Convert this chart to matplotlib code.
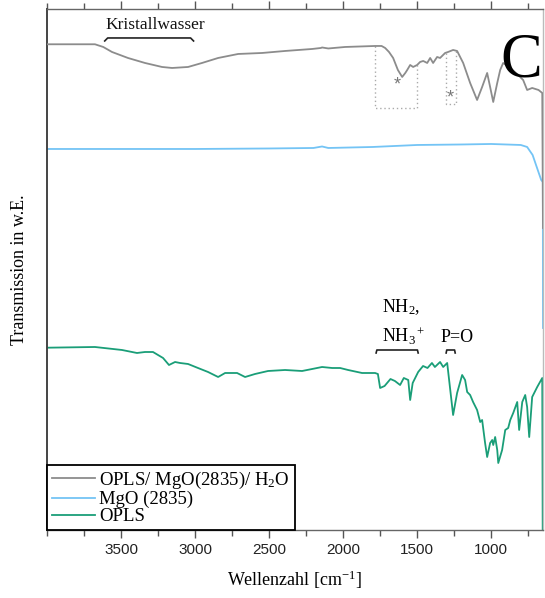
import numpy as np
import matplotlib
matplotlib.use("Agg")
import matplotlib.pyplot as plt
from matplotlib.ticker import MultipleLocator

SERIF = "Liberation Serif"
SANS = "Liberation Sans"
plt.rcParams["mathtext.fontset"] = "custom"
plt.rcParams["mathtext.rm"] = SERIF
plt.rcParams["mathtext.it"] = SERIF + ":italic"
plt.rcParams["mathtext.bf"] = SERIF + ":bold"

# ---- data (wavenumber cm^-1, transmission a.u.) ----
wn_gray = [4000, 3676, 3620, 3561, 3453, 3338, 3223, 3155, 3047, 2953, 2844, 2709,
           2547, 2392, 2209, 2150, 2142, 2100, 1986, 1784, 1740, 1716, 1690, 1662,
           1630, 1601, 1580, 1567, 1547, 1527, 1500, 1480, 1459, 1432, 1412, 1392,
           1365, 1345, 1311, 1291, 1257, 1230, 1189, 1142, 1095, 1061, 1027, 1007,
           986, 959, 939, 919, 871, 818, 784, 757, 723, 680, 655, 650]
t_gray = [4.857, 4.857, 4.83, 4.78, 4.72, 4.67, 4.63, 4.62, 4.63, 4.67, 4.72, 4.76,
          4.77, 4.79, 4.81, 4.82, 4.825, 4.815, 4.83, 4.84, 4.84, 4.82, 4.78, 4.72,
          4.60, 4.53, 4.57, 4.60, 4.65, 4.63, 4.65, 4.68, 4.69, 4.67, 4.72, 4.67,
          4.73, 4.72, 4.77, 4.78, 4.80, 4.79, 4.67, 4.47, 4.30, 4.43, 4.57, 4.43,
          4.28, 4.47, 4.60, 4.67, 4.62, 4.55, 4.50, 4.40, 4.42, 4.40, 4.37, 3.02]

wn_blue = [4000, 3000, 2500, 2200, 2142, 2100, 1800, 1500, 1200, 1000, 800, 757,
           720, 690, 662, 651, 650]
t_blue = [3.81, 3.81, 3.815, 3.82, 3.835, 3.82, 3.83, 3.85, 3.855, 3.86, 3.85, 3.83,
          3.75, 3.62, 3.50, 3.48, 2.02]

wn_green = [4000, 3676, 3493, 3392, 3338, 3284, 3216, 3176, 3135, 3101, 3047, 2980,
            2912, 2844, 2797, 2716, 2662, 2595, 2507, 2392, 2277, 2209, 2142, 2074,
            2020, 1966, 1872, 1784, 1765, 1750, 1720, 1680, 1650, 1615, 1590, 1560,
            1547, 1530, 1493, 1460, 1430, 1400, 1380, 1345, 1324, 1297, 1257, 1230,
            1196, 1176, 1162, 1142, 1122, 1095, 1074, 1061, 1041, 1027, 1007, 993,
            986, 973, 959, 952, 926, 905, 885, 871, 851, 824, 811, 790,
            770, 757, 743, 723, 689, 655, 650]
t_green = [1.823, 1.83, 1.80, 1.77, 1.78, 1.78, 1.72, 1.65, 1.68, 1.67, 1.66, 1.62,
           1.58, 1.53, 1.57, 1.57, 1.53, 1.56, 1.59, 1.60, 1.59, 1.61, 1.63, 1.62,
           1.62, 1.60, 1.57, 1.57, 1.56, 1.42, 1.44, 1.51, 1.49, 1.45, 1.52, 1.50,
           1.30, 1.47, 1.58, 1.64, 1.62, 1.67, 1.63, 1.68, 1.63, 1.67, 1.15, 1.37,
           1.55, 1.50, 1.38, 1.35, 1.28, 1.20, 1.08, 1.10, 0.87, 0.73, 0.87, 0.90,
           0.85, 0.93, 0.80, 0.67, 0.80, 1.00, 1.02, 1.10, 1.17, 1.28, 1.00, 1.28,
           1.35, 1.23, 0.93, 1.33, 1.43, 1.52, -1.0]

labels = ["OPLS/ MgO(2835)/ H$_2$O", "MgO (2835)", "OPLS"]
colors = ["#8c8c8c", "#74c4f5", "#1a9e78"]

fig = plt.figure(figsize=(5.45, 5.98), dpi=100)
ax = fig.add_axes([0.0862, 0.1137, 0.9101, 0.8713])

ax.plot(wn_gray, t_gray, color=colors[0], lw=1.3, label=labels[0], zorder=3)
ax.plot(wn_blue, t_blue, color=colors[1], lw=1.3, label=labels[1], zorder=2)
ax.plot(wn_green, t_green, color=colors[2], lw=1.3, label=labels[2], zorder=2)

ax.set_xlim(4000, 650)
ax.set_ylim(0, 5.21)
ax.set_yticks([])
ax.xaxis.set_minor_locator(MultipleLocator(250))
ax.set_xticks([3500, 3000, 2500, 2000, 1500, 1000])
ax.tick_params(axis="x", which="both", direction="out", top=True, labeltop=False,
               color="#555555", width=1.0)
ax.tick_params(axis="x", which="major", length=6)
ax.tick_params(axis="x", which="minor", length=4)
for lab in ax.get_xticklabels():
    lab.set_fontfamily(SANS)
    lab.set_fontsize(11)
    lab.set_color("#222222")
for s in ax.spines.values():
    s.set_color("#666666")
    s.set_linewidth(1.0)
ax.spines["left"].set_color("#444444")
ax.spines["left"].set_linewidth(1.4)
ax.spines["right"].set_color("#bbbbbb")

ax.set_xlabel("Wellenzahl [cm$^{-1}$]", fontfamily=SERIF, fontsize=13, labelpad=8)
ax.set_ylabel("Transmission in w.E.", fontfamily=SERIF, fontsize=13, labelpad=14)

# annotations
ax.text(3608, 5.01, "Kristallwasser", fontfamily=SERIF, fontsize=12.5, ha="left",
        va="baseline", color="#111111")
ax.plot([3610, 3590, 3030, 3010], [4.89, 4.92, 4.92, 4.89], color="#222222", lw=1.2)

ax.text(939, 4.53, "C", fontfamily=SERIF, fontsize=45, ha="left", va="baseline",
        color="black", zorder=5)

ax.text(1736, 2.18, "NH$_2$,", fontfamily=SERIF, fontsize=13, ha="left", va="baseline")
ax.text(1736, 1.88, "NH$_3$$^+$", fontfamily=SERIF, fontsize=13, ha="left", va="baseline")
ax.plot([1777, 1772, 1498, 1493], [1.77, 1.80, 1.80, 1.77], color="#222222", lw=1.2)
ax.text(1345, 1.88, "P=O", fontfamily=SERIF, fontsize=13, ha="left", va="baseline")
ax.plot([1304, 1300, 1247, 1243], [1.77, 1.80, 1.80, 1.77], color="#222222", lw=1.2)

# dotted U-boxes below gray peaks
wg = np.array(wn_gray)[::-1]
tg = np.array(t_gray)[::-1]
for (a, b, bot) in [(1784, 1500, 4.22), (1304, 1236, 4.26)]:
    ya = np.interp(a, wg, tg)
    yb = np.interp(b, wg, tg)
    ax.plot([a, a, b, b], [ya, bot, bot, yb], color="#aaaaaa", lw=1.0, ls=(0, (1, 2)))
ax.text(1635, 4.45, "*", fontfamily=SANS, fontsize=13, ha="center", va="center",
        color="#777777")
ax.text(1277, 4.32, "*", fontfamily=SANS, fontsize=13, ha="center", va="center",
        color="#777777")

leg = ax.legend(loc="lower left", bbox_to_anchor=(0, 0), borderaxespad=0,
                fancybox=False, edgecolor="black", framealpha=1,
                prop={"family": SERIF, "size": 13.5}, handlelength=2.3,
                handletextpad=0.25, labelspacing=0.0, borderpad=0.25)
leg.get_frame().set_linewidth(1.3)

fig.savefig("out.png", dpi=100)
